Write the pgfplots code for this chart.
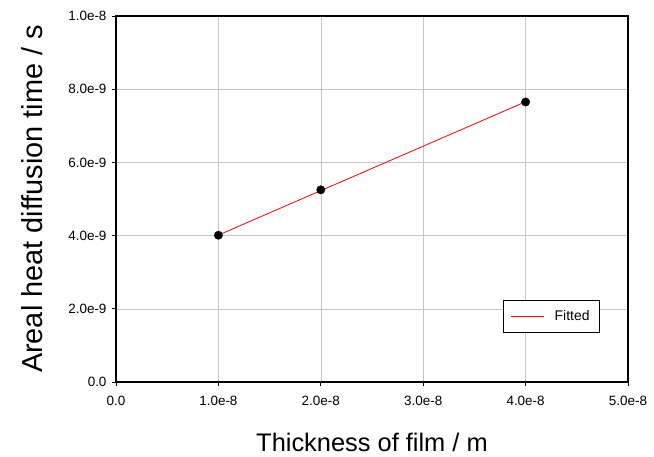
\documentclass[border=0pt]{standalone}
\usepackage{pgfplots}
\pgfplotsset{compat=1.18}
\usepackage{fontspec}
\setmainfont{Liberation Sans}
\begin{document}
\begin{tikzpicture}
\path[use as bounding box] (-116bp,-75bp) rectangle (538bp,382bp);
\begin{axis}[
  at={(0,0)}, anchor=south west,
  scale only axis, width=512bp, height=366bp,
  xmin=0, xmax=5e-8, ymin=0, ymax=1e-8,
  scaled ticks=false,
  xtick={0,1e-8,2e-8,3e-8,4e-8,5e-8},
  xticklabels={0.0,1.0e-8,2.0e-8,3.0e-8,4.0e-8,5.0e-8},
  ytick={0,2e-9,4e-9,6e-9,8e-9,1e-8},
  yticklabels={0.0,2.0e-9,4.0e-9,6.0e-9,8.0e-9,1.0e-8},
  tick pos=left, tick align=outside,
  major tick length=4bp,
  tick style={black, line width=0.8pt},
  axis line style={black, line width=1.3pt},
  grid=major,
  major grid style={gray!45, line width=0.6pt},
  ticklabel style={font=\fontsize{13.5}{15}\selectfont},
  xticklabel style={yshift=-7bp},
  yticklabel style={xshift=-2bp},
  xlabel={Thickness of film / m},
  ylabel={Areal heat diffusion time / s},
  xlabel style={font=\fontsize{25.5}{28}\selectfont, at={(axis description cs:0.5,-0.191)}, anchor=base},
  ylabel style={font=\fontsize{29}{32}\selectfont, at={(axis description cs:-0.1426,0.5)}, anchor=base, rotate=0},
  legend style={at={(0.945,0.224)}, anchor=north east, draw=black, line width=0.6pt,
    font=\fontsize{14}{16}\selectfont, inner xsep=8bp, inner ysep=8bp},
  legend cell align=left,
  legend image code/.code={\draw[#1, line width=0.7pt] (0cm,0cm) -- (1.16cm,0cm); \path (1.45cm,0cm);},
]
\addplot[only marks, mark=*, mark size=4.2bp, black, forget plot] coordinates {
  (1e-8,4.01e-9) (2e-8,5.25e-9) (4e-8,7.65e-9)
};
\addplot[red, line width=0.8pt, no marks] coordinates {
  (1e-8,4.014e-9) (4e-8,7.657e-9)
};
\addlegendentry{Fitted}
\end{axis}
\end{tikzpicture}
\end{document}
